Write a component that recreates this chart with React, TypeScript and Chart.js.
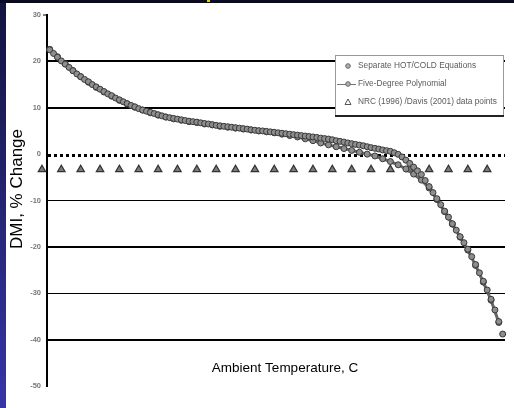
import { useEffect, useRef } from "react";
import { Chart, registerables } from "chart.js";

Chart.register(...registerables);

const TITLE_X = "Ambient Temperature, C";
const TITLE_Y = "DMI, % Change";

const LABEL_HOTCOLD = "Separate HOT/COLD Equations";
const LABEL_POLY = "Five-Degree Polynomial";
const LABEL_NRC = "NRC (1996) /Davis (2001) data points";

// y axis ticks (% change)
const Y_TICKS = [30, 20, 10, 0, -10, -20, -30, -40, -50];

// x range of the plot (ambient temperature, C)
const X_MIN = -19.35;
const X_MAX = 39.8;

// Separate HOT/COLD equations, sampled every 0.5 C starting at -19 C
const HOTCOLD_START = -19;
const HOTCOLD_STEP = 0.5;
const HOTCOLD_DMI = [
  22.5, 21.7, 20.9, 20.1, 19.4, 18.7, 18.0, 17.3, 16.7, 16.1,
  15.6, 15.0, 14.5, 14.0, 13.5, 13.0, 12.6, 12.1, 11.7, 11.3,
  10.9, 10.5, 10.2, 9.8, 9.5, 9.25, 9.0, 8.75, 8.5, 8.25,
  8.0, 7.85, 7.7, 7.55, 7.4, 7.25, 7.1, 7.0, 6.9, 6.75,
  6.6, 6.5, 6.35, 6.2, 6.1, 6.0, 5.9, 5.8, 5.7, 5.6,
  5.5, 5.4, 5.25, 5.15, 5.05, 5.0, 4.9, 4.8, 4.7, 4.6,
  4.5, 4.4, 4.3, 4.2, 4.1, 4.0, 3.9, 3.8, 3.7, 3.6,
  3.45, 3.35, 3.25, 3.1, 2.9, 2.75, 2.6, 2.4, 2.25, 2.1,
  1.95, 1.8, 1.6, 1.4, 1.25, 1.1, 0.9, 0.75, 0.6, 0.3,
  -0.05, -0.6, -1.3, -2.0, -2.8, -3.6, -4.4, -5.7, -7.0, -8.3,
  -9.6, -10.9, -12.3, -13.6, -15.0, -16.4, -17.8, -19.1, -20.5, -22.1,
  -23.8, -25.6, -27.4, -29.3, -31.3, -33.6, -36.1, -38.8,
];

// Five-degree polynomial, sampled every 1 C starting at -19 C
const POLY_START = -19;
const POLY_STEP = 1;
const POLY_DMI = [
  22.6, 21.0, 19.5, 18.0, 16.7, 15.5, 14.4, 13.4, 12.5, 11.6,
  10.8, 10.1, 9.5, 8.9, 8.4, 8.0, 7.6, 7.3, 7.0, 6.8,
  6.5, 6.3, 6.0, 5.8, 5.6, 5.4, 5.2, 5.0, 4.8, 4.6,
  4.3, 4.0, 3.7, 3.3, 2.9, 2.4, 2.0, 1.6, 1.2, 0.8,
  0.4, 0.0, -0.4, -1.0, -1.6, -2.3, -3.2, -4.3, -5.6, -7.3,
  -9.8, -12.4, -15.1, -17.9, -20.7, -24.0, -27.6, -31.5, -36.3,
];

// NRC (1996) / Davis (2001) data points
const NRC_TEMPS = [
  -20, -17.5, -15, -12.5, -10, -7.5, -5, -2.5, 0, 2.5, 5, 7.5,
  10, 12.5, 15, 17.5, 20, 22.5, 25, 27.5, 30, 32.5, 35, 37.5,
];
const NRC_DMI = [
  -3.3, -3.3, -3.3, -3.3, -3.3, -3.3, -3.3, -3.3, -3.3, -3.3, -3.3, -3.3,
  -3.3, -3.3, -3.3, -3.3, -3.3, -3.3, -3.3, -3.3, -3.3, -3.3, -3.3, -3.3,
];

const FONT = '"Liberation Sans", Arial, Helvetica, sans-serif';
const MARKER_FILL = "#8e8e8e";
const MARKER_EDGE = "#383838";

const solidGridWidth = (v: number) => {
  if (v === -10 || v === -30) return 1;
  return 2;
};

// Zero reference line, legend box and axis titles
const decorPlugin = {
  id: "decor",
  beforeDatasetsDraw(chart: any) {
    const { ctx, chartArea } = chart;
    const y0 = Math.round(chart.scales.y.getPixelForValue(0)) + 1.5;
    ctx.save();
    ctx.strokeStyle = "#000";
    ctx.lineWidth = 3;
    ctx.setLineDash([3, 3]);
    ctx.beginPath();
    ctx.moveTo(chartArea.left + 1, y0);
    ctx.lineTo(chartArea.right, y0);
    ctx.stroke();
    ctx.restore();
  },
  afterDatasetsDraw(chart: any) {
    const { ctx, chartArea } = chart;
    const left = chartArea.right - 170;
    const top = chartArea.top + 40;
    const w = 169;
    const h = 61;
    ctx.save();
    ctx.fillStyle = "#fff";
    ctx.fillRect(left, top, w, h);
    ctx.strokeStyle = "#999";
    ctx.lineWidth = 1;
    ctx.strokeRect(left + 0.5, top + 0.5, w - 1, h - 1);
    ctx.fillStyle = "#222";
    ctx.fillRect(left, top + h - 1, w, 2);

    const rows = [top + 11, top + 29, top + 47];
    const mx = left + 13;
    const tx = left + 23;
    const ds = chart.data.datasets;

    // row 1: circle marker
    ctx.fillStyle = "#b0b0b0";
    ctx.strokeStyle = "#666";
    ctx.beginPath();
    ctx.arc(mx, rows[0], 2.3, 0, Math.PI * 2);
    ctx.fill();
    ctx.stroke();

    // row 2: line with circle marker
    ctx.strokeStyle = "#777";
    ctx.beginPath();
    ctx.moveTo(left + 2, rows[1] + 0.5);
    ctx.lineTo(left + 21, rows[1] + 0.5);
    ctx.stroke();
    ctx.strokeStyle = "#666";
    ctx.beginPath();
    ctx.arc(mx, rows[1], 2.3, 0, Math.PI * 2);
    ctx.fill();
    ctx.stroke();

    // row 3: triangle
    ctx.beginPath();
    ctx.moveTo(mx, rows[2] - 3);
    ctx.lineTo(mx + 3, rows[2] + 2.5);
    ctx.lineTo(mx - 3, rows[2] + 2.5);
    ctx.closePath();
    ctx.fillStyle = "#fff";
    ctx.fill();
    ctx.strokeStyle = "#555";
    ctx.stroke();

    ctx.fillStyle = "#5a5a5a";
    ctx.font = `8.3px ${FONT}`;
    ctx.textAlign = "left";
    ctx.textBaseline = "middle";
    ctx.fillText(ds[0].label, tx, rows[0]);
    ctx.fillText(ds[1].label, tx, rows[1]);
    ctx.fillText(ds[2].label, tx, rows[2]);
    ctx.restore();
  },
  afterDraw(chart: any) {
    const { ctx, chartArea } = chart;
    ctx.save();
    ctx.fillStyle = "#000";
    ctx.textAlign = "center";
    ctx.textBaseline = "middle";
    ctx.font = `13.5px ${FONT}`;
    ctx.fillText(TITLE_X, chartArea.left + 238, chartArea.bottom - 18);
    ctx.translate(11, chartArea.top + 174);
    ctx.rotate(-Math.PI / 2);
    ctx.font = `17px ${FONT}`;
    ctx.fillText(TITLE_Y, 0, 0);
    ctx.restore();
  },
};

export default function App() {
  const canvasRef = useRef<HTMLCanvasElement>(null);

  useEffect(() => {
    const canvas = canvasRef.current;
    if (!canvas) return;

    const hotCold = HOTCOLD_DMI.map((v, i) => ({ x: HOTCOLD_START + i * HOTCOLD_STEP, y: v }));
    const poly = POLY_DMI.map((v, i) => ({ x: POLY_START + i * POLY_STEP, y: v }));
    const nrc = NRC_TEMPS.map((t, i) => ({ x: t, y: NRC_DMI[i] }));

    const chart = new Chart(canvas, {
      type: "scatter",
      data: {
        datasets: [
          {
            label: LABEL_HOTCOLD,
            data: hotCold,
            showLine: false,
            pointRadius: 3,
            pointBackgroundColor: MARKER_FILL,
            pointBorderColor: MARKER_EDGE,
            pointBorderWidth: 1,
            clip: false,
          },
          {
            label: LABEL_POLY,
            data: poly,
            showLine: true,
            borderColor: "#666",
            borderWidth: 3,
            pointRadius: 3,
            pointBackgroundColor: MARKER_FILL,
            pointBorderColor: MARKER_EDGE,
            pointBorderWidth: 1,
            clip: false,
          },
          {
            label: LABEL_NRC,
            data: nrc,
            showLine: false,
            pointStyle: "triangle",
            pointRadius: 4.2,
            backgroundColor: "#7c7c7c",
            borderColor: "#333",
            pointBackgroundColor: "#7c7c7c",
            pointBorderColor: "#333",
            pointBorderWidth: 1.3,
            clip: false,
          },
        ],
      },
      options: {
        animation: false,
        responsive: false,
        devicePixelRatio: 1,
        layout: { padding: { top: 12, right: 9, bottom: 22, left: 0 } },
        plugins: {
          legend: { display: false },
          tooltip: { enabled: false },
        },
        scales: {
          x: {
            type: "linear",
            min: X_MIN,
            max: X_MAX,
            display: false,
          },
          y: {
            type: "linear",
            min: -50,
            max: 30,
            afterBuildTicks: (scale: any) => {
              scale.ticks = Y_TICKS.map((v) => ({ value: v }));
            },
            afterFit: (scale: any) => {
              scale.width = 41;
            },
            border: { display: true, color: "#000", width: 2 },
            grid: {
              drawOnChartArea: true,
              drawTicks: true,
              tickLength: 4,
              color: (ctx: any) => {
                const v = ctx.tick?.value;
                return v === 30 || v === 0 || v === -50 ? "rgba(0,0,0,0)" : "#000";
              },
              lineWidth: (ctx: any) => solidGridWidth(ctx.tick?.value),
              tickColor: (ctx: any) => (ctx.tick?.value === 30 ? "#000" : "rgba(0,0,0,0)"),
              tickWidth: 1,
            },
            ticks: {
              padding: 2,
              color: "#777",
              font: { family: FONT, size: 7.5, weight: "bold" },
            },
          },
        },
      },
      plugins: [decorPlugin],
    } as any);

    return () => chart.destroy();
  }, []);

  return (
    <div
      style={{
        position: "fixed",
        left: 0,
        top: 0,
        width: 514,
        height: 408,
        overflow: "hidden",
        background: "linear-gradient(#13133f, #3535a8)",
      }}
    >
      <div style={{ position: "absolute", left: 0, top: 0, width: 514, height: 3, background: "#0a0b20" }} />
      <div style={{ position: "absolute", left: 207, top: 0, width: 3, height: 2, background: "#e6cf00" }} />
      <div style={{ position: "absolute", left: 6, top: 3, width: 508, height: 405, background: "#fff" }}>
        <canvas ref={canvasRef} width={508} height={405} style={{ display: "block" }} />
      </div>
    </div>
  );
}
